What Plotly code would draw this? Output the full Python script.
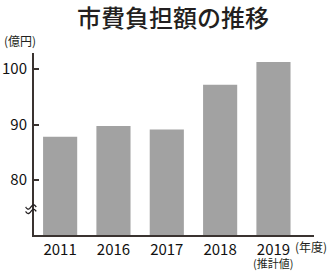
import numpy as np
import plotly.graph_objects as go

years = ["2011", "2016", "2017", "2018", "2019"]
values = [87.8, 89.75, 89.1, 97.2, 101.3]
y_ticks = [80, 90, 100]

FONT = "Noto Sans CJK JP"
DARK = "#231f20"

fig = go.Figure(go.Bar(
    x=list(range(len(years))), y=values,
    width=0.64, marker=dict(color="#a2a2a2", line=dict(width=0)),
    hoverinfo="skip",
))

# axis break marks (two wavy strokes)
t = np.linspace(0, 1, 30)
shapes = []
for yc in (75.15, 74.35):
    xs = -0.03 + 0.038 * t
    ys = yc + 0.38 * np.sin(2 * np.pi * t) * -1
    path = "M " + " L ".join(f"{a:.4f},{b:.4f}" for a, b in zip(xs, ys))
    shapes.append(dict(type="path", path=path, xref="paper", yref="y",
                       line=dict(color=DARK, width=1.3)))

tickfont = dict(size=15, family=FONT, color="#111111", weight=400)

fig.update_layout(
    width=329, height=271,
    margin=dict(l=34, r=15, t=53, b=36),
    paper_bgcolor="white", plot_bgcolor="white",
    showlegend=False,
    bargap=0.36,
    font=dict(family=FONT, color=DARK),
    shapes=shapes,
    xaxis=dict(
        range=[-0.49, 4.76], tickvals=list(range(len(years))), ticktext=years,
        showline=True, linecolor="#3a3330", linewidth=2, showgrid=False,
        ticks="", zeroline=False, tickfont=tickfont, ticklabelstandoff=0,
        automargin=False, fixedrange=True,
    ),
    yaxis=dict(
        range=[70.1, 102.9], tickvals=y_ticks,
        showline=True, linecolor="#3a3330", linewidth=2, showgrid=False,
        ticks="inside", ticklen=5, tickwidth=1.5, tickcolor="#3a3330",
        zeroline=False, tickfont=tickfont, ticklabelstandoff=2,
        automargin=False, fixedrange=True,
    ),
    annotations=[
        dict(text="市費負担額の推移", xref="paper", yref="paper", x=0.496, y=1 + 37 / 182,
             yanchor="middle", xanchor="center", showarrow=False,
             font=dict(size=24, family=FONT, color=DARK, weight=500)),
        dict(text="(億円)", xref="paper", yref="paper", x=-34 / 280 + 2 / 280, y=1 + 13 / 182,
             xanchor="left", yanchor="middle", showarrow=False,
             font=dict(size=12, family=FONT, color=DARK)),
        dict(text="(年度)", xref="paper", yref="paper", x=1 + 15 / 280, y=-11 / 182,
             xanchor="right", yanchor="middle", showarrow=False,
             font=dict(size=12, family=FONT, color=DARK)),
        dict(text="(推計値)", xref="paper", yref="paper", x=(273 - 34) / 280, y=-28 / 182,
             xanchor="center", yanchor="middle", showarrow=False,
             font=dict(size=11, family=FONT, color=DARK)),
    ],
)

fig.write_html("out.html")
